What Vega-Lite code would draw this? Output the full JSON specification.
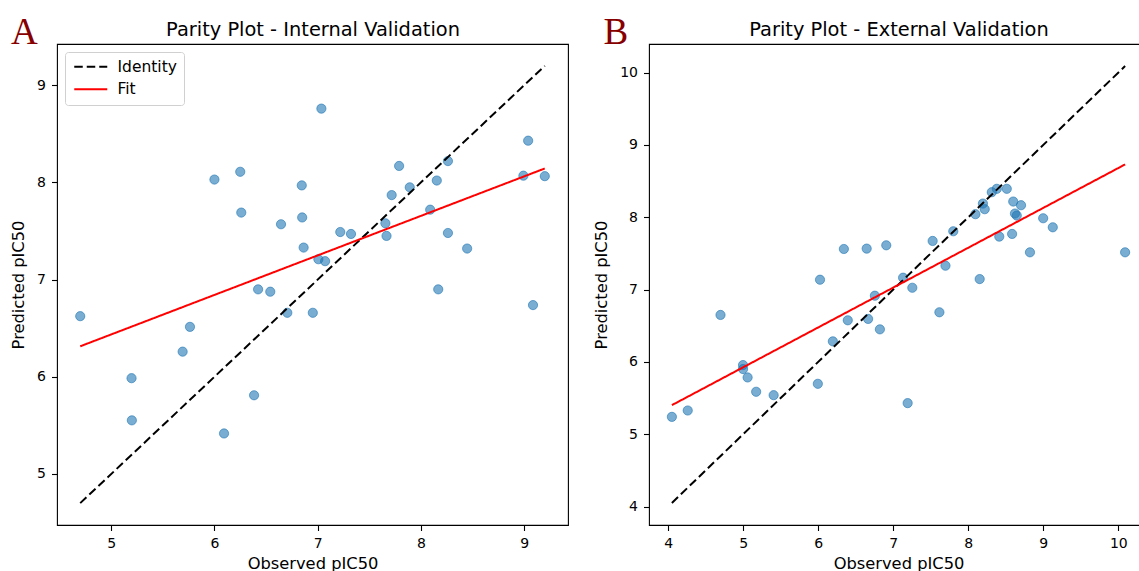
{
  "$schema": "https://vega.github.io/schema/vega-lite/v6.json",
  "padding": {"left": 9, "top": 12, "right": 0, "bottom": 0},
  "spacing": 24,
  "background": "white",
  "config": {
    "font": "DejaVu Sans",
    "view": {"stroke": "#000000", "strokeWidth": 1.1},
    "axis": {
      "grid": false,
      "domain": false,
      "tickColor": "#000000",
      "tickSize": 5.5,
      "tickWidth": 1.1,
      "labelFont": "DejaVu Sans",
      "labelFontSize": 14,
      "labelColor": "#000000",
      "labelPadding": 6,
      "labelFlush": false,
      "labelOverlap": false,
      "titleFont": "DejaVu Sans",
      "titleFontSize": 16.3,
      "titleFontWeight": "normal",
      "titleColor": "#000000"
    },
    "legend": {
      "orient": "top-left",
      "offset": 7.5,
      "title": null,
      "symbolType": "M-3,0H3",
      "symbolSize": 121,
      "symbolOffset": 11,
      "symbolStrokeWidth": 2,
      "labelFont": "DejaVu Sans",
      "labelFontSize": 15.5,
      "labelColor": "#000000",
      "labelOffset": 19,
      "padding": 7,
      "rowPadding": 5.5,
      "fillColor": "rgba(255,255,255,0.8)",
      "strokeColor": "#d0d0d0",
      "cornerRadius": 3
    }
  },
  "datasets": {
    "ptsA": [
      {"obs": 6.00, "pred": 8.03}, {"obs": 6.25, "pred": 8.11}, {"obs": 6.26, "pred": 7.69},
      {"obs": 6.645, "pred": 7.57}, {"obs": 6.846, "pred": 7.97}, {"obs": 6.85, "pred": 7.64},
      {"obs": 6.864, "pred": 7.33}, {"obs": 7.036, "pred": 8.76}, {"obs": 7.007, "pred": 7.21},
      {"obs": 7.072, "pred": 7.19}, {"obs": 7.219, "pred": 7.49}, {"obs": 7.323, "pred": 7.47},
      {"obs": 7.656, "pred": 7.58}, {"obs": 7.667, "pred": 7.45}, {"obs": 7.717, "pred": 7.87},
      {"obs": 7.789, "pred": 8.17}, {"obs": 7.892, "pred": 7.95}, {"obs": 8.154, "pred": 8.02},
      {"obs": 8.262, "pred": 8.22}, {"obs": 8.09, "pred": 7.72}, {"obs": 8.262, "pred": 7.48},
      {"obs": 8.448, "pred": 7.32}, {"obs": 8.168, "pred": 6.90}, {"obs": 8.993, "pred": 8.07},
      {"obs": 9.039, "pred": 8.43}, {"obs": 9.20, "pred": 8.065}, {"obs": 6.423, "pred": 6.90},
      {"obs": 6.541, "pred": 6.876}, {"obs": 4.70, "pred": 6.624}, {"obs": 6.706, "pred": 6.659},
      {"obs": 6.953, "pred": 6.659}, {"obs": 9.086, "pred": 6.738}, {"obs": 5.763, "pred": 6.514},
      {"obs": 5.692, "pred": 6.259}, {"obs": 5.197, "pred": 5.986}, {"obs": 5.20, "pred": 5.552},
      {"obs": 6.384, "pred": 5.81}, {"obs": 6.093, "pred": 5.417}
    ],
    "identA": [
      {"series": "Identity", "obs": 4.70, "pred": 4.70},
      {"series": "Identity", "obs": 9.20, "pred": 9.20}
    ],
    "fitA": [
      {"series": "Fit", "obs": 4.70, "pred": 6.314},
      {"series": "Fit", "obs": 9.20, "pred": 8.144}
    ],
    "ptsB": [
      {"obs": 8.38, "pred": 8.393}, {"obs": 8.313, "pred": 8.346}, {"obs": 8.513, "pred": 8.393},
      {"obs": 8.195, "pred": 8.189}, {"obs": 8.219, "pred": 8.111}, {"obs": 8.095, "pred": 8.042},
      {"obs": 8.599, "pred": 8.217}, {"obs": 8.703, "pred": 8.166}, {"obs": 8.622, "pred": 8.051},
      {"obs": 8.646, "pred": 8.023}, {"obs": 8.998, "pred": 7.986}, {"obs": 9.126, "pred": 7.861},
      {"obs": 8.584, "pred": 7.769}, {"obs": 8.413, "pred": 7.732}, {"obs": 7.80, "pred": 7.806},
      {"obs": 7.525, "pred": 7.672}, {"obs": 8.822, "pred": 7.515}, {"obs": 10.09, "pred": 7.515},
      {"obs": 6.342, "pred": 7.561}, {"obs": 6.646, "pred": 7.566}, {"obs": 6.907, "pred": 7.612},
      {"obs": 7.696, "pred": 7.33}, {"obs": 8.152, "pred": 7.145}, {"obs": 7.131, "pred": 7.164},
      {"obs": 7.254, "pred": 7.025}, {"obs": 6.024, "pred": 7.136}, {"obs": 6.755, "pred": 6.915},
      {"obs": 4.698, "pred": 6.649}, {"obs": 7.615, "pred": 6.686}, {"obs": 6.394, "pred": 6.575},
      {"obs": 6.665, "pred": 6.594}, {"obs": 6.822, "pred": 6.45}, {"obs": 6.195, "pred": 6.284},
      {"obs": 4.998, "pred": 5.956}, {"obs": 4.998, "pred": 5.901}, {"obs": 5.059, "pred": 5.785},
      {"obs": 5.173, "pred": 5.587}, {"obs": 5.406, "pred": 5.54}, {"obs": 5.995, "pred": 5.697},
      {"obs": 7.192, "pred": 5.43}, {"obs": 4.261, "pred": 5.328}, {"obs": 4.05, "pred": 5.24}
    ],
    "identB": [
      {"series": "Identity", "obs": 4.05, "pred": 4.05},
      {"series": "Identity", "obs": 10.09, "pred": 10.09}
    ],
    "fitB": [
      {"series": "Fit", "obs": 4.05, "pred": 5.402},
      {"series": "Fit", "obs": 10.09, "pred": 8.73}
    ]
  },
  "hconcat": [
    {
      "width": 511,
      "height": 481,
      "layer": [
        {
          "data": {"name": "ptsA"},
          "mark": {"type": "circle", "size": 85, "fill": "#1f77b4", "stroke": "#1f77b4", "fillOpacity": 0.6, "strokeOpacity": 0.6, "strokeWidth": 1, "opacity": 1},
          "encoding": {
            "x": {"field": "obs", "type": "quantitative", "scale": {"domain": [4.475, 9.425], "nice": false, "zero": false},
                  "axis": {"orient": "bottom", "title": "Observed pIC50", "values": [5, 6, 7, 8, 9], "titlePadding": 5}},
            "y": {"field": "pred", "type": "quantitative", "scale": {"domain": [4.475, 9.425], "nice": false, "zero": false},
                  "axis": {"title": "Predicted pIC50", "values": [5, 6, 7, 8, 9], "titlePadding": 10}}
          }
        },
        {
          "data": {"name": "identA"},
          "mark": {"type": "line", "strokeWidth": 2},
          "encoding": {
            "x": {"field": "obs", "type": "quantitative", "scale": {"domain": [4.475, 9.425], "nice": false, "zero": false},
                  "axis": {"orient": "top", "title": "Parity Plot - Internal Validation", "labels": false, "ticks": false, "domain": false, "titlePadding": 5, "titleFontSize": 19.4, "minExtent": 0, "maxExtent": 0, "offset": 0}},
            "y": {"field": "pred", "type": "quantitative", "scale": {"domain": [4.475, 9.425], "nice": false, "zero": false},
                  "axis": {"title": "Predicted pIC50", "values": [5, 6, 7, 8, 9], "titlePadding": 10}},
            "color": {"field": "series", "type": "nominal", "scale": {"domain": ["Identity", "Fit"], "range": ["#000000", "#ff0000"]}},
            "strokeDash": {"field": "series", "type": "nominal", "scale": {"domain": ["Identity", "Fit"], "range": [[8.5, 4], [1, 0]]}}
          }
        },
        {
          "data": {"name": "fitA"},
          "mark": {"type": "line", "strokeWidth": 2},
          "encoding": {
            "x": {"field": "obs", "type": "quantitative", "scale": {"domain": [4.475, 9.425], "nice": false, "zero": false},
                  "axis": {"orient": "top", "title": "A", "labels": false, "ticks": false, "domain": false, "minExtent": 0, "maxExtent": 0, "offset": 0,
                           "titleX": -46.5, "titleY": -1, "titleAlign": "left", "titleAngle": 0, "titleBaseline": "alphabetic",
                           "titleFont": "Liberation Serif", "titleFontSize": 37, "titleFontWeight": "normal", "titleColor": "#870000"}},
            "y": {"field": "pred", "type": "quantitative", "scale": {"domain": [4.475, 9.425], "nice": false, "zero": false},
                  "axis": {"title": "Predicted pIC50", "values": [5, 6, 7, 8, 9], "titlePadding": 10}},
            "color": {"field": "series", "type": "nominal", "scale": {"domain": ["Identity", "Fit"], "range": ["#000000", "#ff0000"]}},
            "strokeDash": {"field": "series", "type": "nominal", "scale": {"domain": ["Identity", "Fit"], "range": [[8.5, 4], [1, 0]]}}
          }
        }
      ],
      "resolve": {"axis": {"x": "independent"}}
    },
    {
      "width": 499,
      "height": 481,
      "layer": [
        {
          "data": {"name": "ptsB"},
          "mark": {"type": "circle", "size": 85, "fill": "#1f77b4", "stroke": "#1f77b4", "fillOpacity": 0.6, "strokeOpacity": 0.6, "strokeWidth": 1, "opacity": 1},
          "encoding": {
            "x": {"field": "obs", "type": "quantitative", "scale": {"domain": [3.745, 10.395], "nice": false, "zero": false},
                  "axis": {"orient": "bottom", "title": "Observed pIC50", "values": [4, 5, 6, 7, 8, 9, 10], "titlePadding": 5}},
            "y": {"field": "pred", "type": "quantitative", "scale": {"domain": [3.745, 10.395], "nice": false, "zero": false},
                  "axis": {"title": "Predicted pIC50", "values": [4, 5, 6, 7, 8, 9, 10], "titlePadding": 10}}
          }
        },
        {
          "data": {"name": "identB"},
          "mark": {"type": "line", "strokeWidth": 2},
          "encoding": {
            "x": {"field": "obs", "type": "quantitative", "scale": {"domain": [3.745, 10.395], "nice": false, "zero": false},
                  "axis": {"orient": "top", "title": "Parity Plot - External Validation", "labels": false, "ticks": false, "domain": false, "titlePadding": 5, "titleFontSize": 19.4, "minExtent": 0, "maxExtent": 0, "offset": 0}},
            "y": {"field": "pred", "type": "quantitative", "scale": {"domain": [3.745, 10.395], "nice": false, "zero": false},
                  "axis": {"title": "Predicted pIC50", "values": [4, 5, 6, 7, 8, 9, 10], "titlePadding": 10}},
            "color": {"field": "series", "type": "nominal", "scale": {"domain": ["Identity", "Fit"], "range": ["#000000", "#ff0000"]}},
            "strokeDash": {"field": "series", "type": "nominal", "scale": {"domain": ["Identity", "Fit"], "range": [[8.5, 4], [1, 0]]}}
          }
        },
        {
          "data": {"name": "fitB"},
          "mark": {"type": "line", "strokeWidth": 2},
          "encoding": {
            "x": {"field": "obs", "type": "quantitative", "scale": {"domain": [3.745, 10.395], "nice": false, "zero": false},
                  "axis": {"orient": "top", "title": "B", "labels": false, "ticks": false, "domain": false, "minExtent": 0, "maxExtent": 0, "offset": 0,
                           "titleX": -46, "titleY": -1, "titleAlign": "left", "titleAngle": 0, "titleBaseline": "alphabetic",
                           "titleFont": "Liberation Serif", "titleFontSize": 37, "titleFontWeight": "normal", "titleColor": "#870000"}},
            "y": {"field": "pred", "type": "quantitative", "scale": {"domain": [3.745, 10.395], "nice": false, "zero": false},
                  "axis": {"title": "Predicted pIC50", "values": [4, 5, 6, 7, 8, 9, 10], "titlePadding": 10}},
            "color": {"field": "series", "type": "nominal", "scale": {"domain": ["Identity", "Fit"], "range": ["#000000", "#ff0000"]}},
            "strokeDash": {"field": "series", "type": "nominal", "scale": {"domain": ["Identity", "Fit"], "range": [[8.5, 4], [1, 0]]}}
          }
        }
      ],
      "resolve": {"axis": {"x": "independent"}}
    }
  ]
}
